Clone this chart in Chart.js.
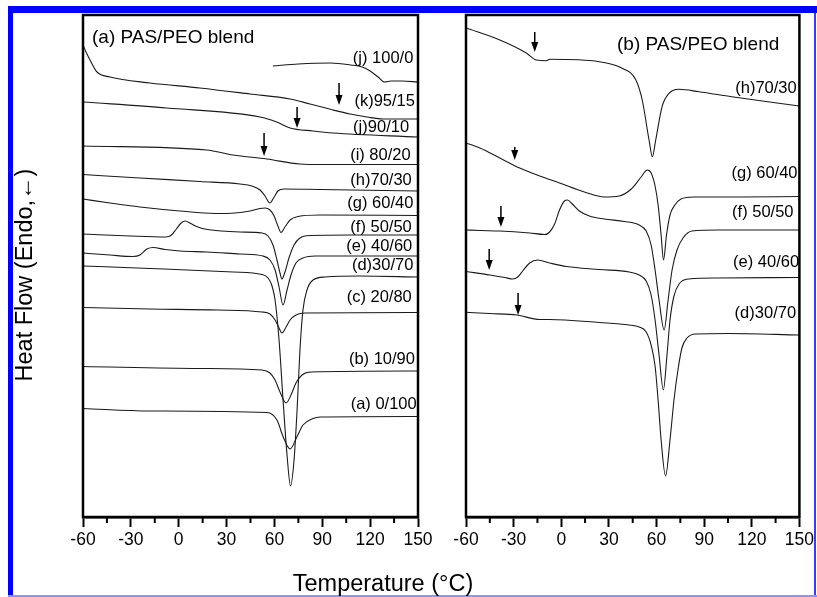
<!DOCTYPE html>
<html>
<head>
<meta charset="utf-8">
<script src="https://cdn.jsdelivr.net/npm/chart.js@4.4.1/dist/chart.umd.min.js"></script>
<style>
  html, body { margin: 0; padding: 0; background: #fff; }
  #wrap { position: relative; width: 817px; height: 597px; overflow: hidden; }
  canvas { position: absolute; left: 0; top: 0; }
  .bar { position: absolute; }
</style>
</head>
<body>
<div id="wrap">
  <div class="bar" style="left:8px;top:6px;width:809px;height:7px;background:#0000ff"></div>
  <div class="bar" style="left:8px;top:6px;width:5px;height:591px;background:#0000ff"></div>
  <div class="bar" style="left:814px;top:13px;width:2px;height:584px;background:#3a3aff"></div>
  <div class="bar" style="left:8px;top:595px;width:809px;height:2px;background:#9090ff"></div>
  <canvas id="left" width="817" height="597"></canvas>
  <canvas id="right" width="817" height="597"></canvas>
</div>
<script>
// temperature (°C) and heat flow (a.u., offset per curve)

// panel (a)
const a100_0T  = [59, 75, 95, 108, 115, 120, 125, 129, 133, 140, 150];
const a100_0HF = [45.1, 45.3, 45.4, 45.2, 45.0, 44.6, 44.0, 43.5, 43.6, 43.6, 43.5];
const a95_15T  = [-60, -58.1, -55.6, -51.2, -43.1, -18, 13.3, 44.7, 69.8, 82.3, 96.7, 107.4, 118, 128.1, 150];
const a95_15HF = [47.2, 46.5, 45.7, 44.5, 44.0, 43.4, 42.9, 42.3, 41.8, 41.3, 40.7, 40.3, 40.0, 39.8, 39.8];
const a90_10T  = [-60, -7.5, 51, 61.4, 69.8, 84.2, 96.7, 150];
const a90_10HF = [41.5, 40.9, 40.0, 39.5, 38.9, 38.6, 38.4, 38.0];
const a80_20T  = [-60, 17.5, 34.1, 55.2, 76, 90, 150];
const a80_20HF = [37.1, 36.7, 36.2, 35.8, 35.3, 35.25, 35.25];
const a70_30T  = [-60, -24.3, 13.3, 38.4, 45.9, 51, 54.1, 57.2, 59.8, 62.2, 66, 88.6, 150];
const a70_30HF = [34.25, 33.9, 33.55, 33.3, 33.1, 32.7, 32.1, 31.4, 32.0, 32.6, 32.8, 32.75, 32.6];
const a60_40T  = [-60, -43.1, -24.3, 0.8, 22.8, 35.3, 44.7, 51, 54.1, 57.2, 59.8, 62.2, 64.1, 66.6, 69.8, 74.8, 88.6, 150];
const a60_40HF = [31.8, 31.4, 31.0, 30.6, 30.35, 30.4, 30.6, 30.85, 30.9, 30.7, 30.1, 29.1, 28.45, 29.0, 29.7, 30.05, 30.2, 30.15];
const a50_50T  = [-60, -30.5, -8, -4.5, -1.5, 1.5, 4, 7.5, 12, 18, 38.4, 52.2, 56, 59.1, 61.6, 63.5, 64.7, 66.6, 69.1, 72.3, 76, 82.3, 107.4, 150];
const a50_50HF = [28.3, 28.1, 28.0, 28.2, 28.8, 29.4, 29.6, 29.35, 29.0, 28.75, 28.5, 28.4, 28.1, 27.2, 25.7, 24.4, 23.8, 24.5, 25.9, 27.2, 27.9, 28.15, 28.2, 28.2];
const a40_60T  = [-60, -43.1, -28.7, -24.3, -19.9, -16.1, -8.6, 0.8, 17.7, 38.4, 52.8, 57.2, 60.4, 62.9, 65.4, 67.9, 70.4, 73.5, 77.9, 85.5, 150];
const a40_60HF = [26.4, 26.2, 26.05, 26.2, 26.8, 26.95, 26.75, 26.6, 26.5, 26.3, 26.1, 25.7, 24.7, 23.0, 21.2, 22.7, 24.2, 25.4, 25.9, 26.1, 26.1];
const a30_70T  = [-60, -18, 34.1, 52.2, 56, 58.5, 60.4, 62.9, 65.4, 67.9, 70.1, 72.3, 74.2, 76, 77.9, 80.4, 84.2, 91.7, 113.6, 150];
const a30_70HF = [25.1, 24.85, 24.5, 24.25, 23.9, 23.1, 21.7, 17.7, 11.7, 6.2, 3.1, 5.7, 10.7, 16.7, 20.7, 22.7, 23.7, 24.0, 24.1, 24.0];
const a20_80T  = [-60, -18, 24, 52.2, 57.2, 60.4, 62.9, 64.7, 67.3, 69.8, 73.5, 79.2, 150];
const a20_80HF = [20.95, 20.8, 20.7, 20.5, 20.3, 19.7, 18.9, 18.4, 19.0, 19.7, 20.2, 20.4, 20.45];
const a10_90T  = [-60, 13.3, 52.2, 57.2, 60.4, 63.5, 67.3, 70.4, 73.5, 77.3, 82.9, 150];
const a10_90HF = [15.05, 14.85, 14.7, 14.4, 13.7, 12.5, 11.4, 12.2, 13.4, 14.2, 14.5, 14.6];
const a0_100T  = [-60, -18, 55.3, 61.6, 65.4, 69.8, 74.2, 77.9, 84.2, 88.6, 150];
const a0_100HF = [10.85, 10.6, 10.45, 9.7, 8.05, 6.8, 8.05, 9.2, 9.85, 10.0, 10.05];

// panel (b)
const b70_30T  = [-60, -38.7, -22, -15.7, -9.4, -7.3, 24, 38.4, 47, 51, 55.3, 57.4, 59.5, 63.5, 67.9, 74.2, 86.7, 107.4, 150];
const b70_30HF = [48.9, 47.7, 46.4, 45.7, 45.63, 45.77, 45.53, 44.87, 43.7, 41.7, 37.7, 36.03, 37.7, 41.03, 42.37, 42.77, 42.53, 42.03, 41.1];
const b60_40T  = [-60, -51.2, -38.7, -26.2, -13.6, -1.1, 14.6, 27.1, 36.5, 44.1, 50.3, 54.1, 56.6, 59.1, 61, 62.9, 64.4, 66.3, 68.5, 71.6, 75.4, 83.6, 111.8, 150];
const b60_40HF = [37.4, 36.9, 35.9, 34.9, 34.1, 33.4, 32.5, 32.0, 32.1, 32.8, 34.0, 34.7, 34.4, 33.1, 31.2, 28.2, 25.7, 28.2, 30.2, 31.2, 31.8, 32.0, 32.0, 32.05];
const b50_50T  = [-60, -51.2, -38.7, -19.9, -10.5, -7.3, -4.2, -1.1, 2.0, 3.9, 7.0, 11.4, 17.7, 27.1, 39.7, 49.1, 53.5, 56.6, 59.1, 61.6, 64.8, 67.3, 69.8, 72.9, 76.7, 82.3, 99.2, 150];
const b50_50HF = [28.7, 28.65, 28.6, 28.4, 28.25, 28.5, 29.3, 30.7, 31.6, 31.7, 31.3, 30.6, 30.1, 29.8, 29.55, 29.2, 28.6, 27.2, 24.7, 21.7, 18.7, 21.7, 24.7, 26.7, 27.9, 28.6, 28.7, 28.7];
const b40_60T  = [-60, -45, -35.6, -30.5, -27.4, -24.3, -19.9, -14.9, -7.3, 3.3, 24, 42.8, 49.1, 53.5, 56.6, 59.1, 61.6, 64.3, 66.6, 68.5, 71, 74.2, 80.4, 99.2, 150];
const b40_60HF = [24.55, 24.2, 23.95, 23.8, 24.0, 24.6, 25.4, 25.7, 25.4, 25.05, 24.75, 24.5, 24.2, 23.6, 22.2, 19.7, 16.2, 12.7, 16.2, 19.7, 22.1, 23.3, 23.8, 23.9, 23.95];
const b30_70T  = [-60, -45, -28.1, -13.6, -7.3, 24, 42.8, 49.1, 53.5, 56.6, 59.1, 61, 62.9, 65.7, 68.5, 71, 73.5, 76, 79.2, 84.8, 105.5, 150];
const b30_70HF = [20.47, 20.35, 20.2, 19.75, 19.75, 19.45, 19.2, 19.0, 18.5, 17.2, 15.1, 11.7, 7.7, 4.1, 7.7, 11.7, 14.7, 16.9, 17.9, 18.3, 18.35, 18.2];

// curve labels (right end of text, in data units)
const aLabels   = ['(j) 100/0', '(k)95/15', '(j)90/10', '(i) 80/20', '(h)70/30', '(g) 60/40', '(f) 50/50', '(e) 40/60', '(d)30/70', '(c) 20/80', '(b) 10/90', '(a) 0/100'];
const aLabelT   = [147.1, 148.1, 144.4, 145.4, 146.1, 147.1, 146.1, 146.4, 147.1, 146.1, 148.1, 149.2];
const aLabelHF  = [45.9, 41.6, 39.0, 36.2, 33.7, 31.4, 29.0, 27.1, 25.2, 22.0, 15.8, 11.3];
const bLabels   = ['(h)70/30', '(g) 60/40', '(f) 50/50', '(e) 40/60', '(d)30/70'];
const bLabelT   = [148.3, 148.8, 146.3, 149.8, 147.9];
const bLabelHF  = [42.9, 34.4, 30.5, 25.5, 20.4];

// Tg arrows
const aArrowT   = [100.5, 74.2, 53.5];
const aArrowTop = [43.4, 41.0, 38.4];
const aArrowTip = [41.2, 38.9, 36.1];
const bArrowT   = [-16.7, -29.3, -38, -45.4, -27.2];
const bArrowTop = [48.5, 37.0, 31.1, 26.8, 22.4];
const bArrowTip = [46.5, 35.7, 29.0, 24.7, 20.2];

const minorTicks = [-45, -15, 15, 45, 75, 105, 135];
const FONT = "'Liberation Sans', Arial, sans-serif";

function pts(t, hf) {
    return t.map((x, i) => ({ x: x, y: hf[i] }));
}

function curve(t, hf) {
    return {
        data: pts(t, hf),
        borderColor: '#1a1a1a',
        borderWidth: 1.1,
        pointRadius: 0,
        fill: false,
        cubicInterpolationMode: 'monotone'
    };
}

function panelPlugin(labels, labelT, labelHF, arrowT, arrowTop, arrowTip, title, titleX, titleY, extra) {
    return {
        id: 'panel',
        afterDraw(chart) {
            const c = chart.ctx;
            const area = chart.chartArea;
            const xs = chart.scales.x, ys = chart.scales.y;
            c.save();
            // frame
            c.strokeStyle = '#000';
            c.lineWidth = 2.5;
            c.strokeRect(area.left, area.top, area.right - area.left, area.bottom - area.top);
            // minor ticks
            c.lineWidth = 2;
            minorTicks.forEach(t => {
                const x = xs.getPixelForValue(t);
                c.beginPath();
                c.moveTo(x, area.bottom);
                c.lineTo(x, area.bottom + 6);
                c.stroke();
            });
            // arrows
            c.fillStyle = '#000';
            c.lineWidth = 1.5;
            arrowT.forEach((t, i) => {
                const x = xs.getPixelForValue(t);
                const y0 = ys.getPixelForValue(arrowTop[i]);
                const y1 = ys.getPixelForValue(arrowTip[i]);
                c.beginPath();
                c.moveTo(x, y0);
                c.lineTo(x, y1 - 8);
                c.stroke();
                c.beginPath();
                c.moveTo(x, y1);
                c.lineTo(x - 3.5, y1 - 10);
                c.lineTo(x + 3.5, y1 - 10);
                c.closePath();
                c.fill();
            });
            // curve labels
            c.font = '16.5px ' + FONT;
            c.textAlign = 'right';
            c.textBaseline = 'middle';
            labels.forEach((s, i) => {
                c.fillText(s, xs.getPixelForValue(labelT[i]), ys.getPixelForValue(labelHF[i]));
            });
            // panel title
            c.font = '19px ' + FONT;
            c.textAlign = 'left';
            c.textBaseline = 'alphabetic';
            c.fillText(title, titleX, titleY);
            if (extra) extra(c);
            c.restore();
        }
    };
}

function axisTitles(c) {
    c.font = '23.5px ' + FONT;
    c.textAlign = 'center';
    c.textBaseline = 'alphabetic';
    c.fillText('Temperature (°C)', 383, 591);
    c.save();
    c.translate(32, 275);
    c.rotate(-Math.PI / 2);
    c.fillText('Heat Flow (Endo,←)', 0, 0);
    c.restore();
}

function makeChart(id, padLeft, padRight, datasets, plugin) {
    return new Chart(document.getElementById(id), {
        type: 'line',
        data: { datasets: datasets },
        options: {
            responsive: false,
            animation: false,
            events: [],
            layout: { padding: { left: padLeft, right: padRight, top: 15, bottom: 35 } },
            plugins: { legend: { display: false }, tooltip: { enabled: false } },
            scales: {
                x: {
                    type: 'linear',
                    min: -60,
                    max: 150,
                    ticks: { stepSize: 30, color: '#000', font: { family: FONT, size: 17.5 }, padding: 3, maxRotation: 0, autoSkip: false },
                    grid: { drawOnChartArea: false, drawTicks: true, tickLength: 10, tickWidth: 2, tickColor: '#000' },
                    border: { display: true, color: '#000', width: 2.5 },
                    afterFit: s => { s.height = 45; }
                },
                y: { display: false, min: 0, max: 50.2 }
            }
        },
        plugins: [plugin]
    });
}

makeChart('left', 83, 399, [
    curve(a100_0T, a100_0HF), curve(a95_15T, a95_15HF), curve(a90_10T, a90_10HF),
    curve(a80_20T, a80_20HF), curve(a70_30T, a70_30HF), curve(a60_40T, a60_40HF),
    curve(a50_50T, a50_50HF), curve(a40_60T, a40_60HF), curve(a30_70T, a30_70HF),
    curve(a20_80T, a20_80HF), curve(a10_90T, a10_90HF), curve(a0_100T, a0_100HF)
], panelPlugin(aLabels, aLabelT, aLabelHF, aArrowT, aArrowTop, aArrowTip, '(a) PAS/PEO blend', 92, 43, axisTitles));

makeChart('right', 466, 16, [
    curve(b70_30T, b70_30HF), curve(b60_40T, b60_40HF), curve(b50_50T, b50_50HF),
    curve(b40_60T, b40_60HF), curve(b30_70T, b30_70HF)
], panelPlugin(bLabels, bLabelT, bLabelHF, bArrowT, bArrowTop, bArrowTip, '(b) PAS/PEO blend', 617, 50));
</script>
</body>
</html>
